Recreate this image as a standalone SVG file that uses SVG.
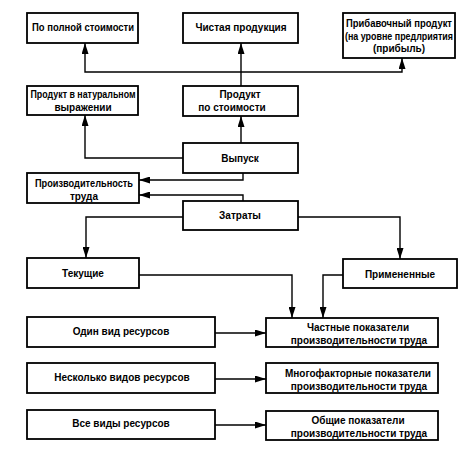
<svg xmlns="http://www.w3.org/2000/svg" width="466" height="449" viewBox="0 0 466 449">
<defs>
<marker id="arr" markerUnits="userSpaceOnUse" markerWidth="11" markerHeight="7" refX="11" refY="3.5" orient="auto">
<path d="M0,0 L11,3.5 L0,7 z" fill="#000"/>
</marker>
<style>
rect{fill:#fff;stroke:#000;stroke-width:1.8}
text{font-family:"Liberation Sans","DejaVu Sans",sans-serif;font-size:10px;font-weight:bold;text-anchor:middle;fill:#000}
#connectors path{fill:none;stroke:#000;stroke-width:1.4}
</style>
</defs>
<rect x="0" y="0" width="466" height="449" style="stroke:none"/>
<g id="connectors">
<path d="M241,86 V43" marker-end="url(#arr)"/>
<path d="M241,72 H85 V43" marker-end="url(#arr)"/>
<path d="M241,72 H402 V58" marker-end="url(#arr)"/>
<path d="M241,143 V116" marker-end="url(#arr)"/>
<path d="M183,158 H85 V115" marker-end="url(#arr)"/>
<path d="M243,173 V180 H139" marker-end="url(#arr)"/>
<path d="M243,201 V195 H139" marker-end="url(#arr)"/>
<path d="M183,217 H86 V258" marker-end="url(#arr)"/>
<path d="M298,217 H400 V259" marker-end="url(#arr)"/>
<path d="M139,275 H292 V318" marker-end="url(#arr)"/>
<path d="M343,275 H323 V318" marker-end="url(#arr)"/>
<path d="M215,333 H266" marker-end="url(#arr)"/>
<path d="M215,379 H266" marker-end="url(#arr)"/>
<path d="M215,425 H266" marker-end="url(#arr)"/>
</g>
<g id="full-cost"><rect x="27" y="13" width="111" height="30"/><text x="83" y="31" textLength="102" lengthAdjust="spacingAndGlyphs">По полной стоимости</text></g>
<g id="net-product"><rect x="183" y="13" width="115" height="30"/><text x="241" y="31">Чистая продукция</text></g>
<g id="surplus"><rect x="343" y="13" width="112" height="45"/><text x="399" y="27" textLength="106" lengthAdjust="spacingAndGlyphs">Прибавочный продукт</text><text x="399" y="39.5" textLength="108" lengthAdjust="spacingAndGlyphs">(на уровне предлриятия</text><text x="399" y="52">(прибыль)</text></g>
<g id="natural"><rect x="27" y="86" width="111" height="29"/><text x="83" y="97.5" textLength="105" lengthAdjust="spacingAndGlyphs">Продукт в натуральном</text><text x="83" y="110.5">выражении</text></g>
<g id="by-cost"><rect x="183" y="86" width="115" height="30"/><text x="240" y="97.5">Продукт</text><text x="232" y="110.5">по стоимости</text></g>
<g id="output"><rect x="183" y="143" width="115" height="30"/><text x="240" y="161.5">Выпуск</text></g>
<g id="productivity"><rect x="27" y="173" width="112" height="30"/><text x="84" y="186.5" textLength="98" lengthAdjust="spacingAndGlyphs">Производительность</text><text x="84" y="199.5">труда</text></g>
<g id="costs"><rect x="183" y="201" width="115" height="29"/><text x="240" y="218.5">Затраты</text></g>
<g id="current"><rect x="27" y="258" width="112" height="30"/><text x="83" y="276.5">Текущие</text></g>
<g id="applied"><rect x="343" y="259" width="114" height="29"/><text x="400" y="277.5">Примененные</text></g>
<g id="one-res"><rect x="27" y="317" width="188" height="30"/><text x="121" y="334.5">Один вид ресурсов</text></g>
<g id="several-res"><rect x="27" y="363" width="188" height="30"/><text x="122" y="380.5">Несколько видов ресурсов</text></g>
<g id="all-res"><rect x="27" y="410" width="188" height="29"/><text x="121" y="426.5">Все виды ресурсов</text></g>
<g id="partial"><rect x="266" y="318" width="172" height="29"/><text x="358" y="330.5">Частные показатели</text><text x="359" y="343.5">производительности труда</text></g>
<g id="multi"><rect x="266" y="363" width="172" height="30"/><text x="358" y="376.5">Многофакторные показатели</text><text x="359" y="389.5">производительности труда</text></g>
<g id="total"><rect x="266" y="411" width="172" height="29"/><text x="358" y="423.5">Общие показатели</text><text x="359" y="436.5">производительности труда</text></g>
</svg>
